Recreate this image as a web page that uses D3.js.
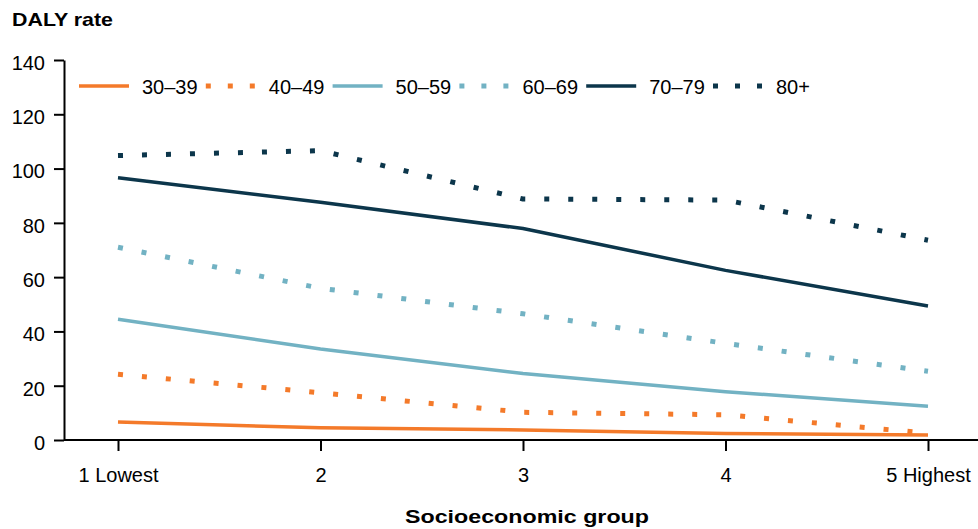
<!DOCTYPE html>
<html><head><meta charset="utf-8">
<script src="https://cdn.jsdelivr.net/npm/d3@7"></script>
<style>body{margin:0;background:#fff}svg{display:block}text{font-family:"Liberation Sans",Arial,sans-serif;fill:#000}</style>
</head><body><svg id="c" width="978" height="529"></svg>
<script>
const categories = ["1 Lowest", "2", "3", "4", "5 Highest"];
const seriesNames = ["30–39", "40–49", "50–59", "60–69", "70–79", "80+"];
const v30 = [6.6, 4.5, 3.7, 2.4, 1.8];
const v40 = [24.2, 17.4, 10.2, 9.3, 2.5];
const v50 = [44.5, 33.5, 24.5, 17.8, 12.4];
const v60 = [71.0, 55.9, 46.5, 35.6, 25.3];
const v70 = [96.6, 87.6, 77.9, 62.5, 49.4];
const v80 = [104.8, 106.6, 88.8, 88.4, 73.6];
const yTicks = [0, 20, 40, 60, 80, 100, 120, 140];

const colors = ["#f47a2a", "#f47a2a", "#72b2c3", "#72b2c3", "#0c364b", "#0c364b"];
const dotted = [false, true, false, true, false, true];
const values = [v30, v40, v50, v60, v70, v80];
const FS = 20;

const svg = d3.select("#c");
const x = d3.scalePoint().domain(categories).range([118, 928]);
const y = d3.scaleLinear().domain([0, 140]).range([440, 60]);

// y axis
const ya = svg.append("g").attr("transform", "translate(64,0)")
  .call(d3.axisLeft(y).tickValues(yTicks).tickSize(10).tickPadding(9).tickSizeOuter(0));
ya.select(".domain").attr("stroke", "#000").attr("stroke-width", 2);
ya.selectAll(".tick line").attr("stroke", "#000").attr("stroke-width", 2);
ya.selectAll(".tick text").attr("font-size", FS).attr("dy", "0.47em")
  .attr("font-family", "Liberation Sans, Arial, sans-serif").attr("fill", "#000");

// x axis
const xa = svg.append("g").attr("transform", "translate(0,440)")
  .call(d3.axisBottom(x).tickSize(11).tickPadding(17).tickSizeOuter(0));
xa.select(".domain").remove();
xa.append("line").attr("x1", 64).attr("x2", 978).attr("stroke", "#000").attr("stroke-width", 2);
xa.selectAll(".tick line").attr("stroke", "#000").attr("stroke-width", 2);
xa.selectAll(".tick text").attr("font-size", FS)
  .attr("font-family", "Liberation Sans, Arial, sans-serif").attr("fill", "#000");

// lines
const line = d3.line().x((d, i) => x(categories[i])).y(d => y(d));
values.forEach((vals, k) => {
  svg.append("path").datum(vals).attr("d", line)
    .attr("fill", "none").attr("stroke", colors[k])
    .attr("stroke-width", dotted[k] ? 5 : 3.5)
    .attr("stroke-dasharray", dotted[k] ? "5,19" : null)
    .attr("stroke-linejoin", "round");
});

// legend
const ly = 86;
const legX = d3.scalePoint().domain(seriesNames).range([79, 713]);
seriesNames.forEach((name, k) => {
  const lx = legX(name);
  svg.append("line").attr("x1", lx).attr("x2", lx + 50).attr("y1", ly).attr("y2", ly)
    .attr("stroke", colors[k]).attr("stroke-width", dotted[k] ? 5 : 3.5)
    .attr("stroke-dasharray", dotted[k] ? "5,17" : null);
  svg.append("text").attr("x", lx + 63).attr("y", ly + 7.5).attr("font-size", FS).text(name);
});

// titles
svg.append("text").attr("x", 12).attr("y", 25.7).attr("font-size", 18.5).attr("font-weight", "bold")
  .attr("textLength", 101).attr("lengthAdjust", "spacingAndGlyphs").text("DALY rate");
svg.append("text").attr("x", 527).attr("y", 523.3).attr("text-anchor", "middle").attr("font-size", 18.5).attr("font-weight", "bold")
  .attr("textLength", 244).attr("lengthAdjust", "spacingAndGlyphs").text("Socioeconomic group");
</script></body></html>
